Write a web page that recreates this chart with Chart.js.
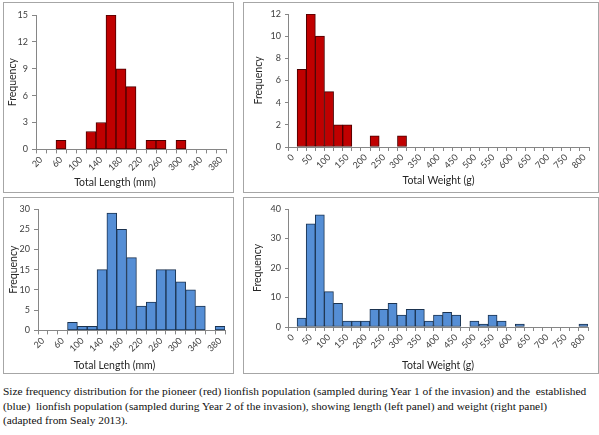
<!DOCTYPE html>
<html>
<head>
<meta charset="utf-8">
<script src="https://cdn.jsdelivr.net/npm/chart.js@4"></script>
<style>
    body { margin: 0; width: 599px; height: 435px; overflow: hidden; background: #fff; position: relative; }
    .panel { position: absolute; box-sizing: border-box; border: 1px solid #a6a6a6; background: #fff; }
    .panel canvas { position: absolute; left: 0; top: 0; }
    #caption { position: absolute; left: 3px; top: 384px; font-family: "Liberation Serif", serif; font-size: 11.4px; line-height: 14.7px; color: #111; white-space: pre; }
</style>
</head>
<body>

<div class="panel" style="left:3px; top:2px; width:231px; height:191px;"><canvas id="lenPioneer" width="228" height="188"></canvas></div>
<div class="panel" style="left:243px; top:2px; width:356px; height:191px;"><canvas id="wtPioneer" width="353" height="188"></canvas></div>
<div class="panel" style="left:3px; top:197px; width:231px; height:177px;"><canvas id="lenEstablished" width="228" height="174"></canvas></div>
<div class="panel" style="left:243px; top:197px; width:356px; height:177px;"><canvas id="wtEstablished" width="353" height="174"></canvas></div>

<div id="caption">Size frequency distribution for the pioneer (red) lionfish population (sampled during Year 1 of the invasion) and the  established
(blue)  lionfish population (sampled during Year 2 of the invasion), showing length (left panel) and weight (right panel)
(adapted from Sealy 2013).</div>

<script>
    // bins (mm and g)
    const lengthBins = [20, 40, 60, 80, 100, 120, 140, 160, 180, 200, 220, 240, 260, 280, 300, 320, 340, 360, 380];
    const weightBins = [0, 25, 50, 75, 100, 125, 150, 175, 200, 225, 250, 275, 300, 325, 350, 375, 400,
                        425, 450, 475, 500, 525, 550, 575, 600, 625, 650, 675, 700, 725, 750, 775, 800];

    // frequencies
    const pioneerLength = [0, 0, 1, 0, 0, 2, 3, 15, 9, 7, 0, 1, 1, 0, 1, 0, 0, 0, 0];
    const establishedLength = [0, 0, 0, 2, 1, 1, 15, 29, 25, 18, 6, 7, 15, 15, 12, 10, 6, 0, 1];
    const pioneerWeight = [0, 7, 12, 10, 5, 2, 2, 0, 0, 1, 0, 0, 1, 0, 0, 0, 0,
                           0, 0, 0, 0, 0, 0, 0, 0, 0, 0, 0, 0, 0, 0, 0, 0];
    const establishedWeight = [0, 3, 35, 38, 12, 8, 2, 2, 2, 6, 6, 8, 4, 6, 6, 2, 4,
                               5, 4, 0, 2, 1, 4, 2, 0, 1, 0, 0, 0, 0, 0, 0, 1];

    const RED = '#c00000', RED_EDGE = '#4a0000';
    const BLUE = '#558ed5', BLUE_EDGE = '#1b3350';
    const AXIS = '#868686';
    const FONT = 'Lato';

    function histogram(id, labels, values, c) {
        const xTitle = { display: true, text: c.xLabel, color: '#262626',
                         font: { family: FONT, size: 10.5, weight: 'normal' }, padding: c.xTitlePad };
        new Chart(document.getElementById(id), {
            type: 'bar',
            data: {
                labels: labels,
                datasets: [{
                    data: values.map(v => v || null),
                    backgroundColor: c.fill,
                    borderColor: c.edge,
                    borderWidth: 1,
                    borderSkipped: false,
                    categoryPercentage: 1,
                    barPercentage: 1
                }]
            },
            options: {
                responsive: false,
                animation: false,
                layout: { padding: c.pad },
                plugins: {
                    legend: { display: false },
                    tooltip: { enabled: false },
                    title: c.plotTitle ? Object.assign({ position: 'bottom' }, xTitle) : { display: false }
                },
                scales: {
                    x: {
                        afterFit: s => { s.height = c.xh; },
                        grid: { drawOnChartArea: false, color: AXIS, tickLength: 4 },
                        border: { color: AXIS },
                        title: c.plotTitle ? { display: false } : xTitle,
                        ticks: {
                            autoSkip: false, minRotation: 45, maxRotation: 45, padding: 1,
                            color: '#404040', font: { family: FONT, size: 9 },
                            callback: function (v, i) { return i % 2 === 0 ? this.getLabelForValue(v) : ''; }
                        }
                    },
                    y: {
                        min: 0, max: c.max,
                        afterFit: s => { s.width = c.yw; },
                        grid: { drawOnChartArea: false, color: AXIS, tickLength: c.tick },
                        border: { color: AXIS },
                        title: { display: true, text: 'Frequency', color: '#262626',
                                 font: { family: FONT, size: 10.5 }, padding: { top: c.yTitlePad, bottom: 0 } },
                        ticks: { stepSize: c.step, padding: 4, color: '#404040', font: { family: FONT, size: 9 } }
                    }
                }
            }
        });
    }

    histogram('lenPioneer', lengthBins, pioneerLength, {
        fill: RED, edge: RED_EDGE, max: 15, step: 3, xLabel: 'Total Length (mm)', plotTitle: true,
        pad: { left: 0, right: 6, top: 12, bottom: 0 }, xh: 24, yw: 32, tick: 4,
        xTitlePad: { top: 3, bottom: 2 }, yTitlePad: 2
    });
    histogram('wtPioneer', weightBins, pioneerWeight, {
        fill: RED, edge: RED_EDGE, max: 12, step: 2, xLabel: 'Total Weight (g)', plotTitle: false,
        pad: { left: 0, right: 8, top: 11, bottom: 2 }, xh: 42, yw: 44, tick: 3,
        xTitlePad: { top: 0, bottom: 2 }, yTitlePad: 8
    });
    histogram('lenEstablished', lengthBins, establishedLength, {
        fill: BLUE, edge: BLUE_EDGE, max: 30, step: 5, xLabel: 'Total Length (mm)', plotTitle: true,
        pad: { left: 0, right: 7, top: 11, bottom: 0 }, xh: 26, yw: 34, tick: 4,
        xTitlePad: { top: 3, bottom: 0 }, yTitlePad: 3
    });
    histogram('wtEstablished', weightBins, establishedWeight, {
        fill: BLUE, edge: BLUE_EDGE, max: 40, step: 10, xLabel: 'Total Weight (g)', plotTitle: false,
        pad: { left: 0, right: 9, top: 11, bottom: 0 }, xh: 45, yw: 44, tick: 3,
        xTitlePad: { top: 0, bottom: 0 }, yTitlePad: 7
    });
</script>
</body>
</html>
